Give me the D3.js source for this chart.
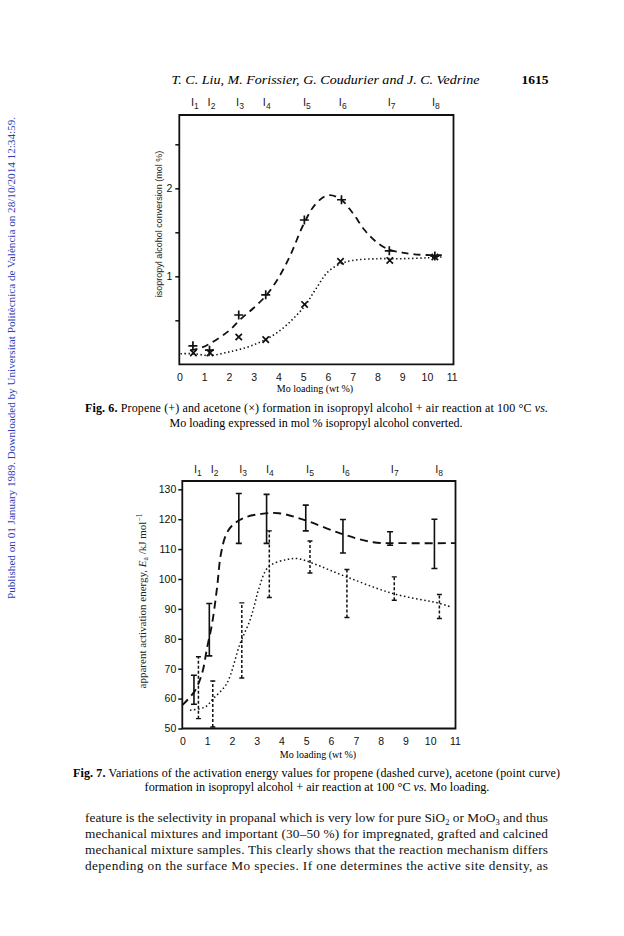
<!DOCTYPE html>
<html><head><meta charset="utf-8">
<script src="https://cdn.jsdelivr.net/npm/d3@7"></script>
<style>body{margin:0;background:#fff}svg{display:block}</style>
</head><body><svg id="c" width="624" height="936"></svg>
<script>
// ---------- Fig. 6 data ----------
const fig6Xticks = [0,1,2,3,4,5,6,7,8,9,10,11];
const fig6Yticks = [0.5,1,1.5,2,2.5];
const fig6YLabels = [1,2];
const sampleLabels = ["1","2","3","4","5","6","7","8"];
const samplePos = [0.63,1.3,2.45,3.53,5.15,6.6,8.57,10.36];
const propeneX = [0.55,1.22,2.4,3.49,5.05,6.55,8.48,10.32];
const propeneConv = [0.21,0.16,0.56,0.79,1.64,1.87,1.29,1.23];
const acetoneX = [0.57,1.24,2.4,3.49,5.06,6.51,8.5,10.32];
const acetoneConv = [0.13,0.13,0.31,0.28,0.68,1.17,1.18,1.22];
const propeneCurveX = [0.45,0.8,1.2,2.0,2.5,3.0,3.5,4.0,4.5,5.0,5.5,6.0,6.5,7.0,7.5,8.0,8.5,9.0,9.5,10.2,10.6];
const propeneCurveY = [0.16,0.18,0.23,0.38,0.52,0.64,0.78,0.98,1.25,1.58,1.82,1.92,1.88,1.72,1.52,1.38,1.3,1.27,1.25,1.24,1.24];
const acetoneCurveX = [0.05,0.6,1.2,2.0,3.0,4.0,5.0,5.5,6.0,6.5,7.0,8.0,9.0,10.0,10.6];
const acetoneCurveY = [0.12,0.12,0.1,0.14,0.22,0.37,0.64,0.85,1.05,1.14,1.18,1.2,1.2,1.21,1.22];

// ---------- Fig. 7 data ----------
const fig7Xticks = [0,1,2,3,4,5,6,7,8,9,10,11];
const fig7Yticks = [50,60,70,80,90,100,110,120,130];
const propEaX = [0.47,1.09,2.28,3.4,4.98,6.48,8.38,10.17];
const propEaLow = [58.1,74.3,111.9,111.9,116.1,108.7,111.3,103.5];
const propEaHigh = [67.8,91.8,128.6,128.3,124.7,119.9,115.8,120.0];
const acetEaX = [0.65,1.23,2.4,3.51,5.15,6.64,8.55,10.37];
const acetEaLow = [53.3,50.5,66.9,93.8,102.0,87.1,92.9,86.8];
const acetEaHigh = [74.0,65.9,92.0,116.1,112.7,103.2,100.7,94.8];
const propEaCurveX = [0,0.5,0.8,1.0,1.2,1.4,1.55,1.75,2.0,2.5,3.2,3.9,5.0,6.4,7.7,9.0,11.0];
const propEaCurveY = [57.8,62.5,68.5,77,85,97,108,114.5,117.8,120.5,121.8,122,119.5,115.2,112.3,112,112];
const acetEaCurveX = [0.31,0.92,1.25,1.79,2.33,2.73,2.93,3.07,3.47,4.21,4.68,5.28,6.63,8.51,10.4,10.87];
const acetEaCurveY = [56.1,57.2,60,65,78.4,86.2,91.9,96.3,104,106.5,106.8,105.2,100.7,95.1,91.8,90.5];

const svg = d3.select("#c");
svg.append("rect").attr("width",624).attr("height",936).attr("fill","#fff");
const SERIF = "'Liberation Serif','Times New Roman',serif";
const SANS = "'Liberation Sans',Arial,sans-serif";

// watermark
svg.append("text").attr("transform","translate(15,358) rotate(-90)")
  .attr("text-anchor","middle").attr("font-family",SERIF).attr("font-size",10)
  .attr("fill","#2b3cb5").attr("textLength",482).attr("lengthAdjust","spacingAndGlyphs")
  .text("Published on 01 January 1989. Downloaded by Universitat Politècnica de València on 28/10/2014 12:34:59.");

// header
svg.append("text").attr("x",325.5).attr("y",84).attr("text-anchor","middle")
  .attr("font-family",SERIF).attr("font-style","italic").attr("font-size",13.5)
  .attr("textLength",308).attr("lengthAdjust","spacingAndGlyphs")
  .text("T. C. Liu, M. Forissier, G. Coudurier and J. C. Vedrine");
svg.append("text").attr("x",535).attr("y",84).attr("text-anchor","middle")
  .attr("font-family",SERIF).attr("font-size",13.5).attr("font-weight","bold").text("1615");

function sampleLabelsRow(g, x, y){
  samplePos.forEach((p,i)=>{
    const t = g.append("text").attr("x",x(p)).attr("y",y).attr("text-anchor","middle")
      .attr("font-family",SANS).attr("font-size",11).attr("fill","#222");
    t.append("tspan").text("I");
    t.append("tspan").attr("font-size",8.5).attr("dy",2.5).text(sampleLabels[i]);
  });
}
function plusMark(g,cx,cy,s){
  g.append("path").attr("d",`M${cx-s},${cy}H${cx+s}M${cx},${cy-s}V${cy+s}`)
   .attr("stroke","#111").attr("stroke-width",1.7).attr("fill","none");
}
function crossMark(g,cx,cy,s){
  g.append("path").attr("d",`M${cx-s},${cy-s}L${cx+s},${cy+s}M${cx-s},${cy+s}L${cx+s},${cy-s}`)
   .attr("stroke","#111").attr("stroke-width",1.7).attr("fill","none");
}

// ================= Fig. 6 =================
{
  const g = svg.append("g");
  const x = d3.scaleLinear().domain([0,11]).range([179.3,451.7]);
  const y = d3.scaleLinear().domain([0,2]).range([364.3,188.3]);
  const top = 115, right = 453.5;
  g.append("path").attr("d",`M${x(0)},${top}H${right}V${y(0)}H${x(0)}Z`)
    .attr("fill","none").attr("stroke","#111").attr("stroke-width",1.8);
  const ya = d3.axisLeft(y).tickValues(fig6Yticks).tickSize(4).tickPadding(3)
    .tickFormat(d=> fig6YLabels.includes(d) ? d3.format("d")(d) : "");
  const yg = g.append("g").attr("transform",`translate(${x(0)},0)`).call(ya);
  yg.select(".domain").remove();
  yg.selectAll("line").attr("stroke","#111").attr("stroke-width",1.5);
  yg.selectAll("text").attr("font-family",SANS).attr("font-size",10.5).attr("fill","#111");
  const xa = d3.axisBottom(x).tickValues(fig6Xticks).tickSize(0).tickPadding(9).tickFormat(d3.format("d"));
  const xg = g.append("g").attr("transform",`translate(0,${y(0)})`).call(xa);
  xg.select(".domain").remove();
  xg.selectAll("text").attr("font-family",SANS).attr("font-size",10.5).attr("fill","#111");
  g.append("text").attr("x",315).attr("y",392).attr("text-anchor","middle")
    .attr("font-family",SERIF).attr("font-size",10).text("Mo loading (wt %)");
  g.append("text").attr("transform","translate(162,224) rotate(-90)").attr("text-anchor","middle")
    .attr("font-family",SANS).attr("font-size",9).attr("fill","#222")
    .text("isopropyl alcohol conversion (mol %)");
  sampleLabelsRow(g, x, 106);
  const line = d3.line().x(d=>x(d[0])).y(d=>y(d[1])).curve(d3.curveCatmullRom.alpha(0.5));
  g.append("path").attr("d",line(d3.zip(propeneCurveX,propeneCurveY)))
    .attr("fill","none").attr("stroke","#111").attr("stroke-width",1.8).attr("stroke-dasharray","7,5");
  g.append("path").attr("d",line(d3.zip(acetoneCurveX,acetoneCurveY)))
    .attr("fill","none").attr("stroke","#111").attr("stroke-width",1.6).attr("stroke-dasharray","1.4,2.6");
  propeneX.forEach((v,i)=>plusMark(g,x(v),y(propeneConv[i]),4.5));
  acetoneX.forEach((v,i)=>crossMark(g,x(v),y(acetoneConv[i]),3.2));
  const c1 = g.append("text").attr("x",85).attr("y",412).attr("font-family",SERIF).attr("font-size",12)
    .attr("textLength",463).attr("lengthAdjust","spacing");
  c1.append("tspan").attr("font-weight","bold").text("Fig. 6.");
  c1.append("tspan").text("  Propene (+) and acetone (×) formation in isopropyl alcohol + air reaction at 100 °C ");
  c1.append("tspan").attr("font-style","italic").text("vs.");
  g.append("text").attr("x",316).attr("y",427).attr("text-anchor","middle").attr("font-family",SERIF)
    .attr("font-size",12).text("Mo loading expressed in mol % isopropyl alcohol converted.");
}

// ================= Fig. 7 =================
{
  const g = svg.append("g");
  const x = d3.scaleLinear().domain([0,11]).range([182.3,455]);
  const y = d3.scaleLinear().domain([50,130]).range([728.5,489.3]);
  const top = 481, right = 455.5;
  g.append("path").attr("d",`M${x(0)},${top}H${right}V${y(50)}H${x(0)}Z`)
    .attr("fill","none").attr("stroke","#111").attr("stroke-width",1.8);
  const ya = d3.axisLeft(y).tickValues(fig7Yticks).tickSize(4).tickPadding(2).tickFormat(d3.format("d"));
  const yg = g.append("g").attr("transform",`translate(${x(0)},0)`).call(ya);
  yg.select(".domain").remove();
  yg.selectAll("line").attr("stroke","#111").attr("stroke-width",1.5);
  yg.selectAll("text").attr("font-family",SANS).attr("font-size",10.5).attr("fill","#111");
  const xa = d3.axisBottom(x).tickValues(fig7Xticks).tickSize(0).tickPadding(9).tickFormat(d3.format("d"));
  const xg = g.append("g").attr("transform",`translate(0,${y(50)})`).call(xa);
  xg.select(".domain").remove();
  xg.selectAll("text").attr("font-family",SANS).attr("font-size",10.5).attr("fill","#111");
  g.append("text").attr("x",318).attr("y",758).attr("text-anchor","middle")
    .attr("font-family",SERIF).attr("font-size",10).text("Mo loading (wt %)");
  const yl = g.append("text").attr("transform","translate(146,601) rotate(-90)").attr("text-anchor","middle")
    .attr("font-family",SERIF).attr("font-size",11).attr("fill","#222");
  yl.append("tspan").text("apparent activation energy, ");
  yl.append("tspan").attr("font-style","italic").text("E");
  yl.append("tspan").attr("font-size",7.5).attr("dy",2).text("a");
  yl.append("tspan").attr("dy",-2).text(" /kJ mol");
  yl.append("tspan").attr("font-size",7.5).attr("dy",-4).text("−1");
  sampleLabelsRow(g, x, 473);
  const line = d3.line().x(d=>x(d[0])).y(d=>y(d[1])).curve(d3.curveCatmullRom.alpha(0.5));
  g.append("path").attr("d",line(d3.zip(propEaCurveX,propEaCurveY)))
    .attr("fill","none").attr("stroke","#111").attr("stroke-width",1.9).attr("stroke-dasharray","8,5");
  g.append("path").attr("d",line(d3.zip(acetEaCurveX,acetEaCurveY)))
    .attr("fill","none").attr("stroke","#111").attr("stroke-width",1.5).attr("stroke-dasharray","1.5,2.6");
  propEaX.forEach((v,i)=>{
    const cx = x(v), y1 = y(propEaLow[i]), y2 = y(propEaHigh[i]);
    g.append("path").attr("d",`M${cx},${y1}V${y2}M${cx-3},${y1}H${cx+3}M${cx-3},${y2}H${cx+3}`)
      .attr("stroke","#111").attr("stroke-width",1.6).attr("fill","none");
  });
  acetEaX.forEach((v,i)=>{
    const cx = x(v), y1 = y(acetEaLow[i]), y2 = y(acetEaHigh[i]);
    g.append("path").attr("d",`M${cx},${y1}V${y2}`)
      .attr("stroke","#111").attr("stroke-width",1.5).attr("stroke-dasharray","3,2").attr("fill","none");
    g.append("path").attr("d",`M${cx-2.5},${y1}H${cx+2.5}M${cx-2.5},${y2}H${cx+2.5}`)
      .attr("stroke","#111").attr("stroke-width",1.4).attr("fill","none");
  });
  const c1 = g.append("text").attr("x",73).attr("y",777).attr("font-family",SERIF).attr("font-size",12)
    .attr("textLength",487).attr("lengthAdjust","spacing");
  c1.append("tspan").attr("font-weight","bold").text("Fig. 7.");
  c1.append("tspan").text("  Variations of the activation energy values for propene (dashed curve), acetone (point curve)");
  const c2 = g.append("text").attr("x",317).attr("y",791).attr("text-anchor","middle").attr("font-family",SERIF)
    .attr("font-size",12.2);
  c2.append("tspan").text("formation in isopropyl alcohol + air reaction at 100 °C ");
  c2.append("tspan").attr("font-style","italic").text("vs.");
  c2.append("tspan").text(" Mo loading.");
}

// body paragraph
{
  const lines = [
    [["feature is the selectivity in propanal which is very low for pure SiO",0],["2",1],[" or MoO",0],["3",1],[" and thus",0]],
    [["mechanical mixtures and important (30–50 %) for impregnated, grafted and calcined",0]],
    [["mechanical mixture samples. This clearly shows that the reaction mechanism differs",0]],
    [["depending on the surface Mo species. If one determines the active site density, as",0]]
  ];
  const base = [822,838,854,870];
  lines.forEach((ln,i)=>{
    const t = svg.append("text").attr("x",85).attr("y",base[i]).attr("font-family",SERIF)
      .attr("font-size",13.3).attr("textLength",463).attr("lengthAdjust","spacing").attr("fill","#111");
    let prevSub = false;
    ln.forEach(([s,sub])=>{
      const ts = t.append("tspan").text(s);
      if(sub){ ts.attr("font-size",8.5).attr("dy",3); }
      else if(prevSub){ ts.attr("dy",-3); }
      prevSub = !!sub;
    });
  });
}
</script></body></html>
